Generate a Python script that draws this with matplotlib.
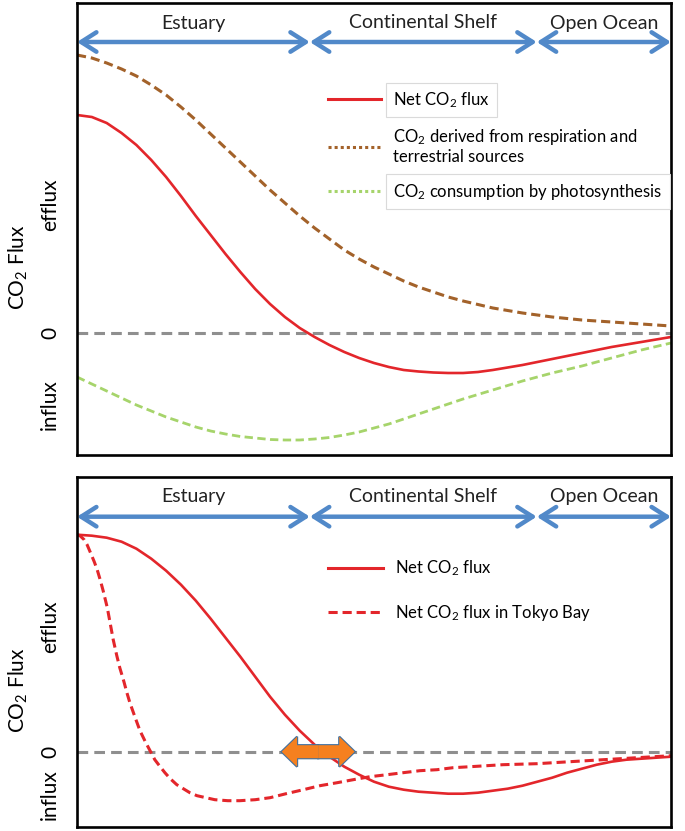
import matplotlib
matplotlib.use("Agg")
import matplotlib.pyplot as plt
from matplotlib.lines import Line2D
from matplotlib.patches import FancyArrow

plt.rcParams['font.family'] = ['Lato', 'DejaVu Sans']
plt.rcParams['mathtext.fontset'] = 'custom'
plt.rcParams['mathtext.rm'] = 'Lato'
plt.rcParams['mathtext.it'] = 'Lato:italic'

# zones along the transect (distance, % of the way to open ocean)
zones = ['Estuary', 'Continental Shelf', 'Open Ocean']
zone_bounds = [0, 39.2, 77.4, 100]

# top panel: schematic fluxes (arbitrary units, 0 = no net flux)
dist_top = [0, 2.5, 5, 7.5, 10, 12.5, 15, 17.5, 20, 22.5, 25, 27.5, 30, 32.5,
            35, 37.5, 40, 42.5, 45, 47.5, 50, 52.5, 55, 57.5, 60, 62.5, 65,
            67.5, 70, 72.5, 75, 77.5, 80, 82.5, 85, 87.5, 90, 92.5, 95, 97.5, 100]
net_flux = [2.18, 2.16, 2.10, 2.00, 1.88, 1.73, 1.56, 1.37, 1.17, 0.98, 0.79,
            0.61, 0.44, 0.29, 0.16, 0.05, -0.04, -0.12, -0.19, -0.25, -0.30,
            -0.34, -0.37, -0.385, -0.395, -0.40, -0.40, -0.39, -0.37, -0.345,
            -0.32, -0.29, -0.26, -0.23, -0.20, -0.17, -0.14, -0.115, -0.09, -0.065, -0.04]
resp_flux = [2.78, 2.75, 2.70, 2.64, 2.57, 2.48, 2.38, 2.26, 2.13, 1.99, 1.85,
             1.71, 1.57, 1.43, 1.30, 1.17, 1.05, 0.94, 0.83, 0.74, 0.66,
             0.59, 0.52, 0.46, 0.41, 0.36, 0.32, 0.285, 0.25, 0.225,
             0.20, 0.18, 0.16, 0.145, 0.13, 0.12, 0.11, 0.10, 0.09, 0.08, 0.07]
photo_flux = [-0.44, -0.51, -0.58, -0.65, -0.72, -0.78, -0.84, -0.89, -0.94, -0.98, -1.01,
              -1.035, -1.05, -1.065, -1.07, -1.07, -1.06, -1.045, -1.02, -0.99, -0.95,
              -0.91, -0.86, -0.81, -0.76, -0.71, -0.66, -0.615, -0.57, -0.525,
              -0.48, -0.44, -0.40, -0.365, -0.33, -0.29, -0.25, -0.21, -0.17, -0.135, -0.10]

# bottom panel: general net flux vs Tokyo Bay
dist_net = dist_top
net_flux2 = [2.17, 2.16, 2.14, 2.10, 2.03, 1.93, 1.81, 1.67, 1.51, 1.33, 1.14,
             0.95, 0.75, 0.55, 0.37, 0.21, 0.07, -0.05, -0.15, -0.23, -0.30,
             -0.35, -0.38, -0.40, -0.41, -0.42, -0.42, -0.41, -0.39, -0.37,
             -0.34, -0.30, -0.26, -0.21, -0.17, -0.13, -0.10, -0.08, -0.07, -0.06, -0.05]
dist_tokyo = [0, 0.5, 1.2, 1.7, 2.2, 2.9, 3.4, 3.9, 4.4, 5.1,
              5.6, 6.1, 6.7, 7.2, 7.9, 8.4, 8.9, 9.8, 10.6, 11.5,
              12.3, 13.1, 14.0, 14.8, 15.7, 16.8, 17.9, 19.0, 20.2, 21.7,
              23.2, 25.4, 27.4, 30.0, 32.5, 35.2, 38.1, 40.9, 43.8, 46.5,
              49.3, 52.2, 54.9, 57.7, 60.6, 63.3, 66.2, 71.7, 77.4, 83.0,
              88.6, 94.3, 100]
tokyo_flux = [2.17, 2.16, 2.12, 2.07, 2.00, 1.90, 1.82, 1.72, 1.61, 1.44,
              1.28, 1.12, 0.96, 0.84, 0.70, 0.59, 0.49, 0.34, 0.21, 0.10,
              0.01, -0.08, -0.15, -0.21, -0.27, -0.33, -0.37, -0.41, -0.44, -0.46,
              -0.48, -0.49, -0.49, -0.48, -0.46, -0.42, -0.38, -0.34, -0.31, -0.28,
              -0.25, -0.23, -0.21, -0.19, -0.18, -0.16, -0.15, -0.13, -0.12, -0.10,
              -0.08, -0.06, -0.04]

RED = '#E3262B'
BROWN = '#A3622A'
GREEN = '#A6D46B'
BLUE = '#5189C9'
GREY = '#8F8F8F'

W, H = 685, 831
fig = plt.figure(figsize=(W / 100, H / 100), dpi=100)
ax1 = fig.add_axes([77 / W, 1 - 455 / H, 594 / W, 452 / H])
ax2 = fig.add_axes([77 / W, 1 - 827 / H, 594 / W, 350 / H])


def zone_arrows(ax, y_arrow, y_text):
    for i, name in enumerate(zones):
        x0, x1 = zone_bounds[i], zone_bounds[i + 1]
        ax.annotate('', xy=(x1, y_arrow), xytext=(x0, y_arrow),
                    arrowprops=dict(arrowstyle='<->,head_length=0.55,head_width=0.35',
                                    lw=3.2, color=BLUE, shrinkA=0, shrinkB=0,
                                    mutation_scale=20))
        ax.text((x0 + x1) / 2, y_text, name, ha='center', va='center', fontsize=14,
                color='#222222')


for ax in (ax1, ax2):
    ax.set_xlim(0, 100)
    ax.set_xticks([])
    ax.set_yticks([])
    for s in ax.spines.values():
        s.set_linewidth(1.9)
        s.set_color('black')
    ax.axhline(0, color=GREY, lw=2.2, ls=(0, (3.5, 2)), zorder=1)

# ---- top panel
ax1.set_ylim(-1.22, 3.30)
ax1.plot(dist_top, resp_flux, color=BROWN, lw=2.2, ls=(0, (3, 1.6)))
ax1.plot(dist_top, photo_flux, color=GREEN, lw=2.0, ls=(0, (3, 1.6)))
ax1.plot(dist_top, net_flux, color=RED, lw=1.9)
zone_arrows(ax1, 2.91, 3.10)

h1 = [Line2D([], [], color=RED, lw=2.2),
      Line2D([], [], color=BROWN, lw=2.2, ls=(0, (1, 1))),
      Line2D([], [], color=GREEN, lw=2.2, ls=(0, (1, 1)))]
l1 = ['Net CO$_2$ flux',
      'CO$_2$ derived from respiration and\nterrestrial sources',
      'CO$_2$ consumption by photosynthesis']
leg1 = ax1.legend(h1, l1, loc='upper left', bbox_to_anchor=(0.4226, 0.807),
                  frameon=False, fontsize=12, handlelength=3.2, handletextpad=0.7,
                  labelspacing=1.0, borderaxespad=0, borderpad=0)
for i in (0, 2):
    leg1.get_texts()[i].set_bbox(dict(boxstyle='square,pad=0.45', fc='white',
                                      ec='#DADADA', lw=0.8))

# ---- bottom panel
ax2.set_ylim(-0.753, 2.747)
ax2.plot(dist_tokyo, tokyo_flux, color=RED, lw=2.2, ls=(0, (3, 1.6)))
ax2.plot(dist_net, net_flux2, color=RED, lw=1.9)
zone_arrows(ax2, 2.35, 2.55)

# orange double arrow on the zero line
xc, half = 40.6, 6.15
for d in (half, -half):
    ax2.add_patch(FancyArrow(xc, 0, d, 0, width=0.13, head_width=0.30,
                             head_length=2.6, length_includes_head=True,
                             fc='#F5801F', ec='#41709F', lw=1.6, zorder=5))
for d in (half, -half):
    ax2.add_patch(FancyArrow(xc, 0, d, 0, width=0.13, head_width=0.30,
                             head_length=2.6, length_includes_head=True,
                             fc='#F5801F', ec='none', lw=0, zorder=6))

h2 = [Line2D([], [], color=RED, lw=2.2),
      Line2D([], [], color=RED, lw=2.2, ls=(0, (3, 1.6)))]
l2 = ['Net CO$_2$ flux', 'Net CO$_2$ flux in Tokyo Bay']
ax2.legend(h2, l2, loc='upper left', bbox_to_anchor=(0.4226, 0.767),
           frameon=False, fontsize=12, handlelength=3.3, handletextpad=0.7,
           labelspacing=1.5, borderaxespad=0, borderpad=0)

# y-axis annotations
for zero_py, flux_py, eff_py, inf_py in ((333, 267, 205, 405), (751.7, 690, 627, 795)):
    fig.text(18 / W, 1 - flux_py / H, 'CO$_2$ Flux', rotation=90, ha='center',
             va='center', fontsize=15)
    fig.text(50 / W, 1 - eff_py / H, 'efflux', rotation=90, ha='center',
             va='center', fontsize=15)
    fig.text(50 / W, 1 - zero_py / H, '0', rotation=90, ha='center',
             va='center', fontsize=15)
    fig.text(50 / W, 1 - inf_py / H, 'influx', rotation=90, ha='center',
             va='center', fontsize=15)

fig.savefig('out.png', dpi=100)
